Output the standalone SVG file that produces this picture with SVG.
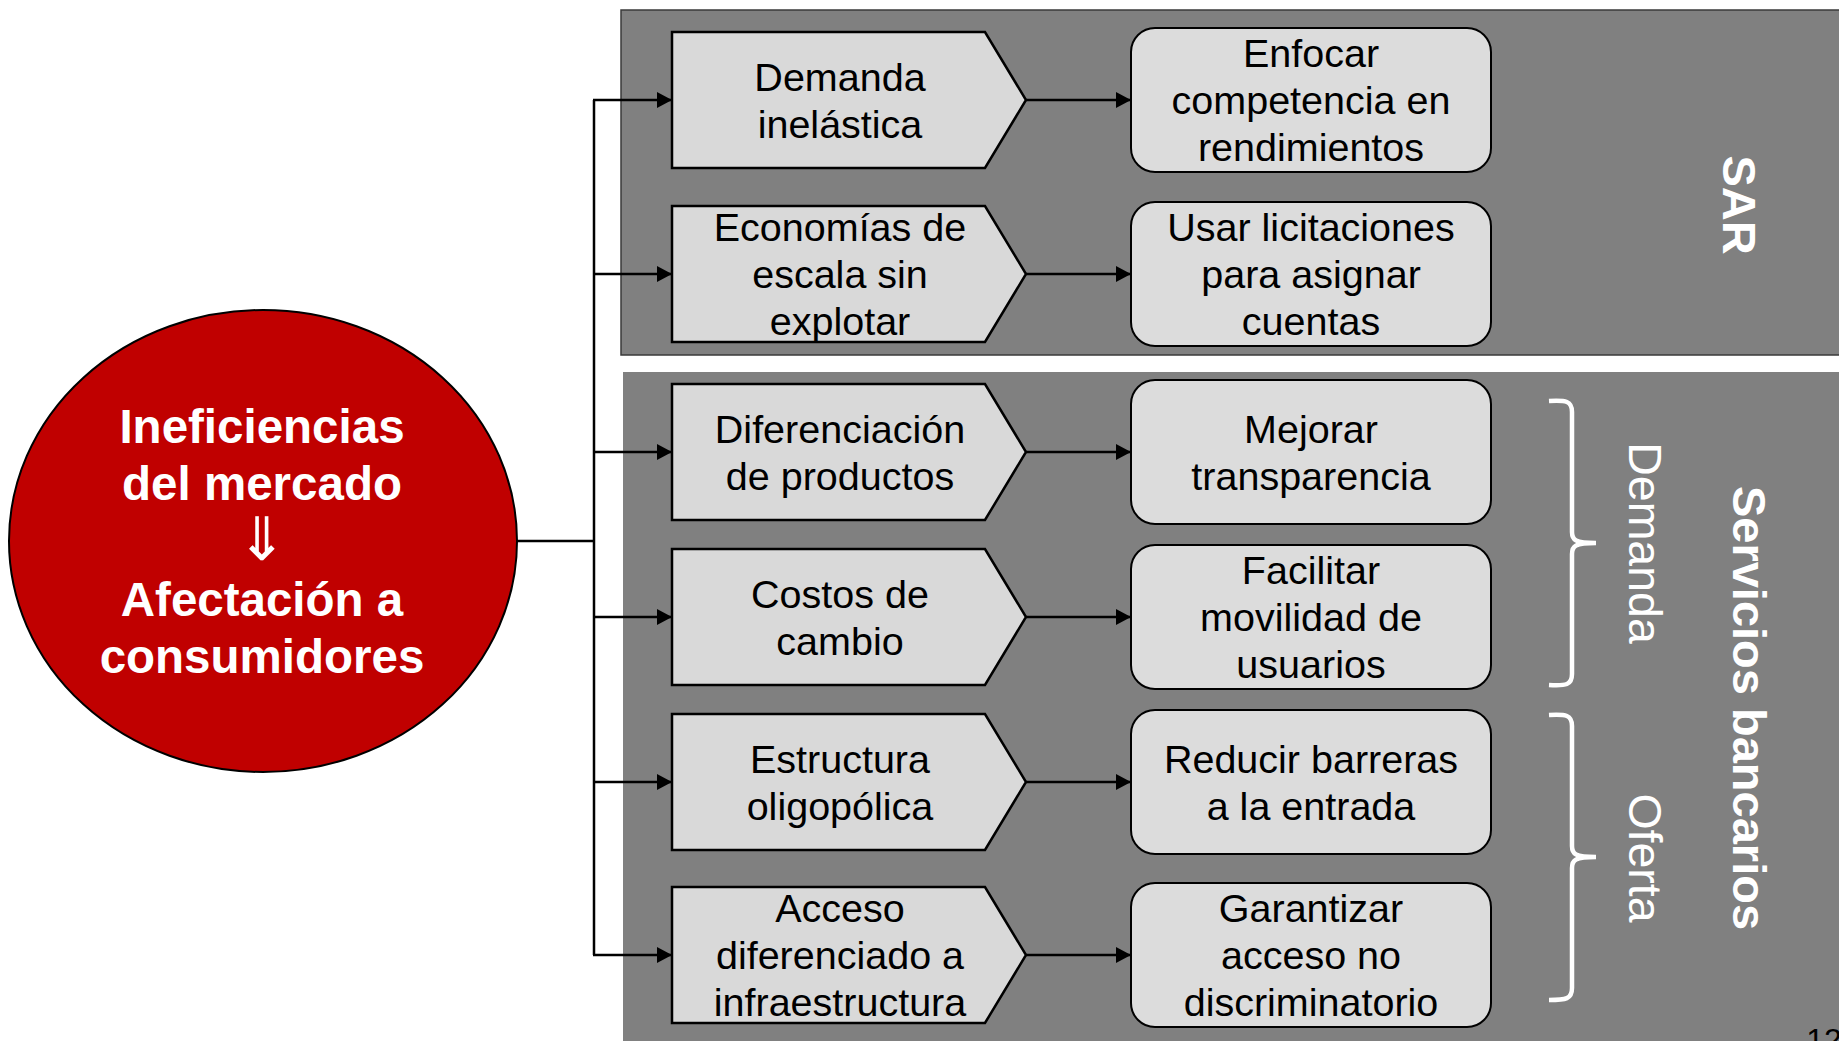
<svg xmlns="http://www.w3.org/2000/svg" width="1839" height="1041" viewBox="0 0 1839 1041">
<defs>
<style>
.t{font-family:"Liberation Sans",Arial,sans-serif;text-anchor:middle}
.lbl{font-size:39.5px;fill:#000}
.big{font-size:47.5px;font-weight:bold;fill:#fff}
.sideb{font-size:47px;font-weight:bold;fill:#fff}
.side{font-size:46.5px;fill:#fff}
.pent{fill:#d9d9d9;stroke:#000;stroke-width:2.5;stroke-linejoin:miter}
.box{fill:#dcdcdc;stroke:#000;stroke-width:2}
.conn{fill:none;stroke:#000;stroke-width:2.5}
.brace{fill:none;stroke:#fff;stroke-width:4.5;stroke-linecap:butt}
</style>
<marker id="ah" viewBox="0 0 15 16" refX="15" refY="8" markerWidth="15" markerHeight="16" markerUnits="userSpaceOnUse" orient="auto">
<path d="M0,0 L15,8 L0,16 Z" fill="#000"/>
</marker>
</defs>
<rect width="1839" height="1041" fill="#fff"/>

<g id="panel-sar">
<rect x="621" y="10" width="1240" height="345" fill="#808080" stroke="#3a3a3a" stroke-width="1.5"/>
<text class="t sideb" transform="translate(1723,205) rotate(90)">SAR</text>
</g>
<g id="panel-servicios">
<rect x="623" y="372" width="1240" height="700" fill="#808080"/>
<text class="t sideb" transform="translate(1733,708) rotate(90)">Servicios bancarios</text>
</g>
<g id="brace-demanda">
<path class="brace" d="M1549,401 C1566,400 1572,401 1572,412 L1572,532 C1572,540 1575,543 1596,543 C1575,543 1572,546 1572,554 L1572,674 C1572,685 1566,686 1549,685"/>
<text class="t side" transform="translate(1629,543) rotate(90)">Demanda</text>
</g>
<g id="brace-oferta">
<path class="brace" d="M1549,715 C1566,714 1572,715 1572,726 L1572,846 C1572,854 1575,857 1596,857 C1575,857 1572,860 1572,868 L1572,988 C1572,999 1566,1000 1549,1000"/>
<text class="t side" transform="translate(1629,858) rotate(90)">Oferta</text>
</g>

<g id="connectors">
<path class="conn" d="M517,541 L594,541"/>
<path class="conn" d="M594,100 L594,955"/>
<path class="conn" d="M593,100 L672,100" marker-end="url(#ah)"/>
<path class="conn" d="M593,274 L672,274" marker-end="url(#ah)"/>
<path class="conn" d="M593,452 L672,452" marker-end="url(#ah)"/>
<path class="conn" d="M593,617 L672,617" marker-end="url(#ah)"/>
<path class="conn" d="M593,782 L672,782" marker-end="url(#ah)"/>
<path class="conn" d="M593,955 L672,955" marker-end="url(#ah)"/>
<path class="conn" stroke-width="2" d="M1026,100 L1131,100" marker-end="url(#ah)"/>
<path class="conn" stroke-width="2" d="M1026,274 L1131,274" marker-end="url(#ah)"/>
<path class="conn" stroke-width="2" d="M1026,452 L1131,452" marker-end="url(#ah)"/>
<path class="conn" stroke-width="2" d="M1026,617 L1131,617" marker-end="url(#ah)"/>
<path class="conn" stroke-width="2" d="M1026,782 L1131,782" marker-end="url(#ah)"/>
<path class="conn" stroke-width="2" d="M1026,955 L1131,955" marker-end="url(#ah)"/>
</g>

<g id="node-ineficiencias">
<ellipse cx="263" cy="541" rx="254" ry="231" fill="#c00000" stroke="#000" stroke-width="2"/>
<text class="t big"><tspan x="262" y="443">Ineficiencias</tspan><tspan x="262" y="500">del mercado</tspan><tspan x="262" y="616">Afectación a</tspan><tspan x="262" y="673">consumidores</tspan></text>
<text x="262" y="560" style="font-family:'DejaVu Sans',sans-serif;font-size:60px;fill:#fff;text-anchor:middle">⇓</text>
</g>

<g id="node-demanda-inelastica">
<path class="pent" d="M672,32 L985,32 L1026,100 L985,168 L672,168 Z"/>
<text class="t lbl"><tspan x="840" y="90.5">Demanda</tspan><tspan x="840" y="138">inelástica</tspan></text>
</g>
<g id="node-economias">
<path class="pent" d="M672,206 L985,206 L1026,274 L985,342 L672,342 Z"/>
<text class="t lbl"><tspan x="840" y="240.5">Economías de</tspan><tspan x="840" y="287.5">escala sin</tspan><tspan x="840" y="334.5">explotar</tspan></text>
</g>
<g id="node-diferenciacion">
<path class="pent" d="M672,384 L985,384 L1026,452 L985,520 L672,520 Z"/>
<text class="t lbl"><tspan x="840" y="442.5">Diferenciación</tspan><tspan x="840" y="489.5">de productos</tspan></text>
</g>
<g id="node-costos">
<path class="pent" d="M672,549 L985,549 L1026,617 L985,685 L672,685 Z"/>
<text class="t lbl"><tspan x="840" y="607.5">Costos de</tspan><tspan x="840" y="654.5">cambio</tspan></text>
</g>
<g id="node-estructura">
<path class="pent" d="M672,714 L985,714 L1026,782 L985,850 L672,850 Z"/>
<text class="t lbl"><tspan x="840" y="772.5">Estructura</tspan><tspan x="840" y="819.5">oligopólica</tspan></text>
</g>
<g id="node-acceso">
<path class="pent" d="M672,887 L985,887 L1026,955 L985,1023 L672,1023 Z"/>
<text class="t lbl"><tspan x="840" y="921.5">Acceso</tspan><tspan x="840" y="968.5">diferenciado a</tspan><tspan x="840" y="1015.5">infraestructura</tspan></text>
</g>

<g id="node-enfocar">
<rect class="box" x="1131" y="28" width="360" height="144" rx="24"/>
<text class="t lbl"><tspan x="1311" y="66.5">Enfocar</tspan><tspan x="1311" y="113.5">competencia en</tspan><tspan x="1311" y="160.5">rendimientos</tspan></text>
</g>
<g id="node-licitaciones">
<rect class="box" x="1131" y="202" width="360" height="144" rx="24"/>
<text class="t lbl"><tspan x="1311" y="240.5">Usar licitaciones</tspan><tspan x="1311" y="287.5">para asignar</tspan><tspan x="1311" y="334.5">cuentas</tspan></text>
</g>
<g id="node-transparencia">
<rect class="box" x="1131" y="380" width="360" height="144" rx="24"/>
<text class="t lbl"><tspan x="1311" y="442.5">Mejorar</tspan><tspan x="1311" y="489.5">transparencia</tspan></text>
</g>
<g id="node-movilidad">
<rect class="box" x="1131" y="545" width="360" height="144" rx="24"/>
<text class="t lbl"><tspan x="1311" y="583.5">Facilitar</tspan><tspan x="1311" y="630.5">movilidad de</tspan><tspan x="1311" y="677.5">usuarios</tspan></text>
</g>
<g id="node-barreras">
<rect class="box" x="1131" y="710" width="360" height="144" rx="24"/>
<text class="t lbl"><tspan x="1311" y="772.5">Reducir barreras</tspan><tspan x="1311" y="819.5">a la entrada</tspan></text>
</g>
<g id="node-acceso-no-disc">
<rect class="box" x="1131" y="883" width="360" height="144" rx="24"/>
<text class="t lbl"><tspan x="1311" y="921.5">Garantizar</tspan><tspan x="1311" y="968.5">acceso no</tspan><tspan x="1311" y="1015.5">discriminatorio</tspan></text>
</g>

<text class="t" x="1824" y="1051" style="font-size:32px;fill:#000">12</text>
</svg>
